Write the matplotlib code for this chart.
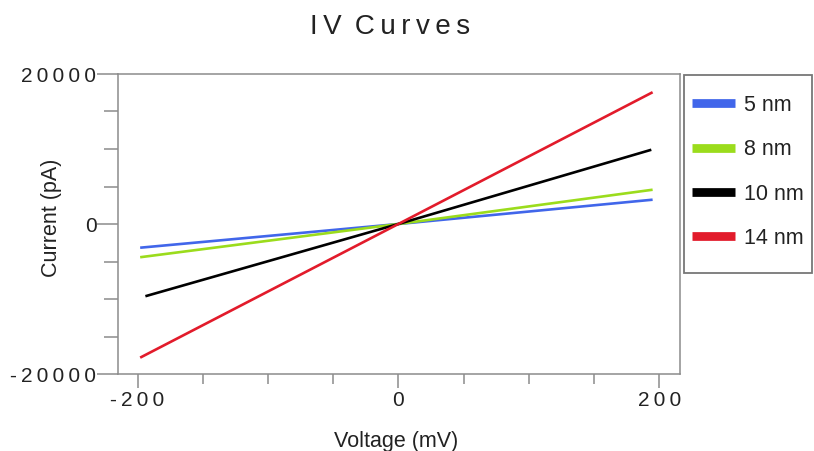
import matplotlib
matplotlib.use("Agg")
import matplotlib.pyplot as plt
from matplotlib.lines import Line2D
from matplotlib.patches import Rectangle
from matplotlib.ticker import MultipleLocator, FuncFormatter

plt.rcParams['font.family'] = ['Liberation Sans', 'DejaVu Sans']

# IV data (mV, pA)
v_5nm = [-198, 0, 195]
i_5nm = [-3160, 0, 3240]
v_8nm = [-198, 0, 195]
i_8nm = [-4430, 0, 4570]
v_10nm = [-194, 0, 194]
i_10nm = [-9630, 0, 9900]
v_14nm = [-198, 0, 195]
i_14nm = [-17820, 0, 17570]

labels = ["5 nm", "8 nm", "10 nm", "14 nm"]
colors = ["#4166ea", "#9bdc1c", "#000000", "#e21b2b"]

grey = "#8c8c8c"
txt = "#222222"
W, H = 814, 451

fig = plt.figure(figsize=(W / 100, H / 100), dpi=100)
ax = fig.add_axes([118 / W, 1 - 374 / H, (680 - 118) / W, (374 - 74) / H])

series = [(v_5nm, i_5nm), (v_8nm, i_8nm), (v_10nm, i_10nm), (v_14nm, i_14nm)]
for (v, i), c in zip(series, colors):
    ax.plot(v, i, color=c, lw=1.9, solid_capstyle='butt')

ax.set_xlim(-215, 216)
ax.set_ylim(-20000, 20000)

for s in ax.spines.values():
    s.set_color(grey)
    s.set_linewidth(1.1)

# spaced-out tick labels, like the original
def spaced(val, pos):
    return "\u2009".join(str(int(round(val))))

ax.xaxis.set_major_locator(MultipleLocator(200))
ax.xaxis.set_minor_locator(MultipleLocator(50))
ax.yaxis.set_major_locator(MultipleLocator(20000))
ax.yaxis.set_minor_locator(MultipleLocator(5000))
ax.xaxis.set_major_formatter(FuncFormatter(spaced))
ax.yaxis.set_major_formatter(FuncFormatter(spaced))

ax.tick_params(axis='x', which='major', direction='out', length=10, width=1.1,
               color=grey, labelsize=15, labelcolor=txt, pad=2)
ax.tick_params(axis='x', which='minor', direction='out', length=7, width=1.1, color=grey)
ax.tick_params(axis='y', which='major', direction='out', length=15, width=1.1,
               color=grey, labelsize=15, labelcolor=txt, pad=0.5)
ax.tick_params(axis='y', which='minor', direction='out', length=10, width=1.1, color=grey)

ax.set_xlabel("Voltage (mV)", fontsize=15.5, color=txt)
ax.set_ylabel("Current (pA)", fontsize=15.5, color=txt)
ax.xaxis.set_label_coords(0.494, -0.19)
ax.yaxis.set_label_coords(-0.10, 0.52)

fig.text(390 / W, 1 - 34 / H, "I\u2009V\u2009 C\u2009u\u2009r\u2009v\u2009e\u2009s",
         fontsize=20, color=txt, ha='center', va='baseline')

# legend box
fig.patches.append(Rectangle((684 / W, 1 - 273 / H), (812 - 684) / W, (273 - 75) / H,
                             transform=fig.transFigure, fill=False,
                             edgecolor="#777777", linewidth=1.3))
handles = [Line2D([], [], color=c, lw=6.3, solid_capstyle='butt') for c in colors]
fig.legend(handles, labels, loc='upper left', bbox_to_anchor=(692 / W, 1 - 95 / H),
           frameon=False, fontsize=15.5, handlelength=2.0, handletextpad=0.4,
           labelspacing=1.08, borderpad=0, borderaxespad=0, labelcolor=txt)

fig.savefig("out.png", dpi=100)
